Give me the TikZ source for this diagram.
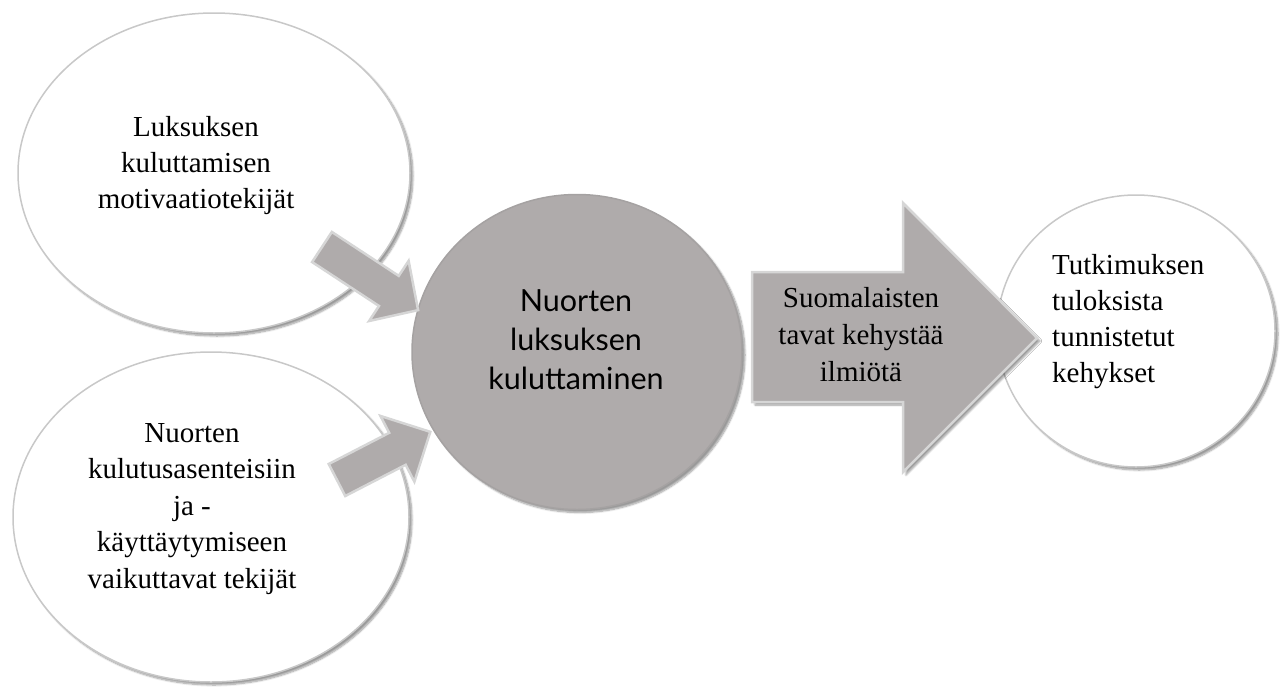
\documentclass[tikz,border=0pt]{standalone}
\usepackage{fontspec}
\setmainfont{Liberation Serif}
\newfontfamily\gillfont{Lato}
\usetikzlibrary{shapes.geometric,shadows.blur}
\definecolor{blockgray}{RGB}{175,171,171}
\definecolor{bubbleedge}{RGB}{200,200,200}
\definecolor{arrowedge}{RGB}{214,214,214}
\definecolor{coreedge}{RGB}{165,162,162}
\begin{document}
\begin{tikzpicture}[x=1pt,y=-1pt,
  bubble/.style={ellipse, draw=bubbleedge, line width=1.5pt, fill=white, inner sep=0pt,
    blur shadow={shadow xshift=3pt, shadow yshift=-3pt, shadow blur steps=8, shadow opacity=40}},
  corebubble/.style={ellipse, draw=coreedge, line width=1.5pt, fill=blockgray, inner sep=0pt,
    blur shadow={shadow xshift=3pt, shadow yshift=-3pt, shadow blur steps=8, shadow opacity=40}},
  blockarrow/.style={draw=arrowedge, line width=2.5pt, fill=blockgray, line join=miter},
  bigarrow/.style={draw=arrowedge, line width=2.5pt, fill=blockgray, line join=miter,
    blur shadow={shadow xshift=3pt, shadow yshift=-3pt, shadow blur steps=8, shadow opacity=40}},
  seriftext/.style={font=\fontsize{29}{36}\selectfont, inner sep=0pt, text=black},
]
\useasboundingbox (0,0) rectangle (1285,686);

% circles
\node[bubble, minimum width=392pt, minimum height=320pt] (c1) at (214,173) {};
\node[bubble, minimum width=396pt, minimum height=330pt] (c2) at (211,517) {};
\node[corebubble, minimum width=330pt, minimum height=315pt] (c3) at (577,352) {};
\node[bubble, minimum width=278pt, minimum height=272pt] (c4) at (1136,331) {};

% small arrows
\begin{scope}[shift={(322,247)}, rotate=-33.3]
  \draw[blockarrow] (0,-18) -- (80,-18) -- (80,-36) -- (115,0) -- (80,36) -- (80,18) -- (0,18) -- cycle;
\end{scope}
\begin{scope}[shift={(337,480)}, rotate=27.3]
  \draw[blockarrow] (0,-18) -- (68,-18) -- (68,-37) -- (105,0) -- (68,37) -- (68,18) -- (0,18) -- cycle;
\end{scope}

% big arrow
\draw[bigarrow] (752,272) -- (903,272) -- (903,203) -- (1037,338) -- (903,472) -- (903,402) -- (752,402) -- cycle;

% texts
\node[seriftext, align=center] (t1) at (196,166) {Luksuksen\\kuluttamisen\\motivaatiotekijät};
\node[seriftext, align=center, font=\fontsize{29}{36.5}\selectfont] (t2) at (192,508.6) {Nuorten\\kulutusasenteisiin\\ja -\\käyttäytymiseen\\vaikuttavat tekijät};
\node[inner sep=0pt, align=center, font=\gillfont\fontsize{30.5}{39}\selectfont] (t3) at (576,340) {Nuorten\\luksuksen\\kuluttaminen};
\node[seriftext, align=center, font=\fontsize{29}{37}\selectfont] (t5) at (861,335) {Suomalaisten\\tavat kehystää\\ilmiötä};
\node[seriftext, align=left, anchor=west, font=\fontsize{29}{35.7}\selectfont] (t4) at (1052,321.6) {Tutkimuksen\\tuloksista\\tunnistetut\\kehykset};
\end{tikzpicture}
\end{document}
